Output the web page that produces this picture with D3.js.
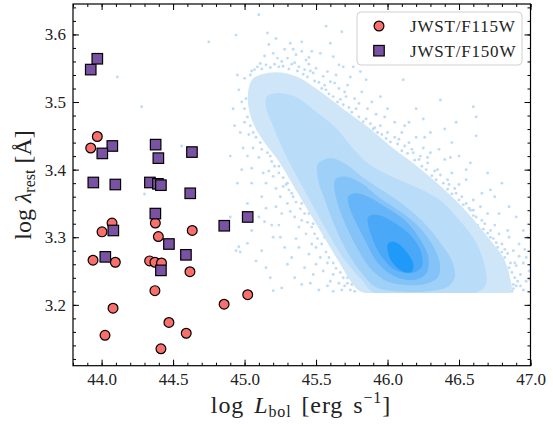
<!DOCTYPE html>
<html lang="en">
<head>
<meta charset="utf-8">
<title>Rest wavelength vs bolometric luminosity</title>
<script src="https://d3js.org/d3.v7.min.js"></script>
<style type="text/css">
  body { margin: 0; background: #fff; }
  svg { display: block; }
  .axis .tick text { font-family: "Liberation Serif", "DejaVu Serif", serif; font-size: 17px; fill: #222; }
  .axis line { stroke: #000; stroke-width: 1; }
  .label { font-family: "Liberation Serif", "DejaVu Serif", serif; font-size: 24px; fill: #222; }
  .legend text { font-family: "Liberation Serif", "DejaVu Serif", serif; font-size: 17px; fill: #222; letter-spacing: 0.8px; }
</style>
</head>
<body>
<svg width="553" height="424"></svg>

<script type="text/javascript">

// JWST/F115W sources (red circles)
const f115Lbol = [43.970, 43.924, 44.073, 44.003, 43.940, 44.096, 44.376, 44.397, 44.336, 44.373,
                  44.419, 44.373, 44.080, 44.471, 44.024, 44.415, 44.618, 44.634, 44.857, 45.022, 44.592];
const f115Lam  = [3.449, 3.432, 3.321, 3.308, 3.266, 3.263, 3.321, 3.301, 3.265, 3.263,
                  3.262, 3.221, 3.195, 3.174, 3.155, 3.135, 3.249, 3.310, 3.201, 3.215, 3.158];

// JWST/F150W sources (purple squares)
const f150Lbol = [43.924, 43.970, 44.075, 44.005, 43.942, 44.096, 44.378, 44.397, 44.338, 44.394, 44.415,
                  44.632, 44.620, 44.376, 44.082, 44.026, 44.471, 44.415, 44.590, 44.858, 45.022];
const f150Lam  = [3.548, 3.564, 3.435, 3.424, 3.381, 3.378, 3.437, 3.417, 3.381, 3.379, 3.377,
                  3.426, 3.365, 3.335, 3.310, 3.271, 3.290, 3.251, 3.274, 3.317, 3.330];

// comparison sample: density contours (outer -> inner)
const kde1 = [[45.024,3.513],[45.052,3.533],[45.122,3.541],[45.234,3.544],[45.373,3.537],[45.513,3.518],
              [45.702,3.488],[45.863,3.463],[46.031,3.433],[46.213,3.404],[46.401,3.370],[46.562,3.336],
              [46.702,3.300],[46.807,3.271],[46.856,3.241],[46.856,3.2175],[45.842,3.2175],[45.779,3.225],
              [45.653,3.266],[45.513,3.315],[45.373,3.365],[45.234,3.414],[45.143,3.439],[45.073,3.463],[45.031,3.488]];
const kde2 = [[45.155,3.508],[45.213,3.513],[45.352,3.508],[45.515,3.483],[45.632,3.463],[45.749,3.434],
              [45.865,3.409],[46.029,3.390],[46.192,3.375],[46.366,3.355],[46.483,3.330],[46.623,3.291],
              [46.693,3.242],[46.681,3.227],[46.611,3.2175],[45.911,3.2175],[45.819,3.237],[45.701,3.266],
              [45.585,3.306],[45.469,3.350],[45.352,3.395],[45.259,3.434],[45.190,3.469],[45.148,3.493]];
const kde3 = [[45.515,3.409],[45.609,3.417],[45.702,3.409],[45.819,3.390],[45.959,3.370],[46.099,3.350],
              [46.238,3.325],[46.355,3.296],[46.448,3.266],[46.471,3.242],[46.424,3.227],[46.285,3.220],
              [46.052,3.220],[45.911,3.227],[45.819,3.247],[45.725,3.276],[45.632,3.316],[45.562,3.355],[45.515,3.385]];
const kde4 = [[45.632,3.385],[45.702,3.390],[45.819,3.380],[45.935,3.360],[46.075,3.340],[46.192,3.321],
              [46.308,3.291],[46.366,3.261],[46.355,3.242],[46.285,3.232],[46.145,3.229],[46.005,3.234],
              [45.889,3.252],[45.795,3.281],[45.702,3.321],[45.644,3.355]];
const kde5 = [[45.725,3.360],[45.772,3.365],[45.865,3.360],[45.982,3.345],[46.122,3.325],[46.215,3.301],
              [46.285,3.271],[46.273,3.247],[46.192,3.237],[46.052,3.242],[45.935,3.261],[45.841,3.296],
              [45.772,3.325],[45.732,3.345]];
const kde6 = [[45.865,3.330],[45.935,3.333],[46.052,3.321],[46.169,3.301],[46.238,3.276],[46.238,3.256],
              [46.169,3.247],[46.052,3.252],[45.959,3.271],[45.889,3.301]];
const kde7 = [[46.005,3.291],[46.052,3.293],[46.122,3.281],[46.180,3.261],[46.169,3.249],[46.110,3.249],
              [46.040,3.261],[46.005,3.276]];
const kdeColors = ["#cfe6f9", "#b9dcf8", "#9fd0f8", "#84c3f8", "#66b5f8", "#4aa8f8", "#1f9af8"];

// comparison sample: individual sources visible outside the contours
const bgDots = [
  [45.10,3.629],[45.16,3.602],[45.22,3.594],[45.32,3.587],[45.40,3.589],[45.60,3.587],[45.68,3.604],[45.53,3.572],
  [45.11,3.557],[45.43,3.562],[45.62,3.567],[45.69,3.552],[45.76,3.552],[45.81,3.545],[45.74,3.537],[45.85,3.533],
  [46.11,3.533],[45.71,3.508],[45.95,3.508],[46.37,3.503],[46.60,3.493],[46.62,3.478],[45.57,3.612],
  [45.26,3.560],[45.30,3.565],[45.35,3.558],[45.38,3.552],[45.42,3.548],[45.45,3.556],[45.48,3.543],[45.50,3.550],
  [45.55,3.538],[45.58,3.545],[45.60,3.530],[45.63,3.528],[45.66,3.520],[45.70,3.515],[45.72,3.525],[45.77,3.505],
  [45.80,3.498],[45.82,3.515],[45.86,3.490],[45.89,3.500],[45.20,3.572],[45.28,3.578],[45.36,3.570],[45.47,3.575],
  [45.14,3.568],[45.05,3.546],[45.00,3.535],[45.56,3.525],[45.64,3.540],[45.40,3.575],
  [45.92,3.482],[45.98,3.478],[46.05,3.470],[46.12,3.465],[45.90,3.460],[45.96,3.452],[46.08,3.445],[46.15,3.440],
  [46.20,3.448],[46.25,3.432],[46.30,3.425],[46.28,3.410],[46.35,3.400],[46.40,3.415],[46.45,3.395],[46.42,3.385],
  [46.50,3.378],[46.55,3.385],[46.52,3.360],[46.60,3.355],[46.58,3.340],[46.65,3.345],[46.70,3.335],[46.68,3.320],
  [46.75,3.318],[46.78,3.305],[46.80,3.290],[46.85,3.300],[46.88,3.280],[46.92,3.272],[46.90,3.258],[46.95,3.262],
  [46.93,3.245],[46.97,3.235],[46.90,3.228],[46.95,3.222],[46.87,3.220],[46.99,3.250],[46.10,3.455],[46.18,3.425],
  [46.22,3.415],[46.33,3.398],[46.47,3.372],[46.62,3.330],[46.72,3.310],[46.82,3.270],
  [46.20,3.490],[46.45,3.440],[46.62,3.450],[46.48,3.470],[46.70,3.395],[46.80,3.380],[46.72,3.370],[46.85,3.345],
  [46.90,3.330],[46.95,3.310],[46.98,3.300],[46.50,3.420],[46.58,3.410],[46.30,3.455],[46.75,3.360],[46.92,3.290],
  [46.40,3.460],[46.25,3.475],
  [45.78,3.490],[45.85,3.475],[45.88,3.468],[45.95,3.465],[46.00,3.455],[46.05,3.448],[46.12,3.435],[46.17,3.430],
  [46.23,3.420],[46.28,3.418],[46.37,3.392],[46.43,3.378],[46.48,3.365],[46.55,3.350],[46.60,3.340],[46.66,3.325],
  [46.72,3.300],[46.76,3.292],[46.82,3.282],[46.86,3.262],[46.89,3.240],[46.88,3.230],
  [44.96,3.518],[44.98,3.500],[45.00,3.470],[44.97,3.455],[45.03,3.452],[45.06,3.432],[44.99,3.432],[45.10,3.418],
  [45.05,3.402],[45.13,3.395],[45.17,3.398],[45.20,3.390],[45.15,3.380],[45.22,3.372],[45.27,3.375],[45.25,3.360],
  [45.30,3.350],[45.32,3.338],[45.26,3.335],[45.35,3.330],[45.40,3.325],[45.38,3.315],[45.43,3.305],[45.36,3.298],
  [45.47,3.290],[45.50,3.285],[45.45,3.275],[45.53,3.270],[45.58,3.262],[45.55,3.250],[45.62,3.245],[45.60,3.235],
  [45.66,3.232],[45.70,3.228],[45.62,3.220],[45.52,3.222],[45.40,3.230],[45.30,3.260],[45.20,3.300],[45.10,3.330],
  [45.02,3.350],[45.15,3.343],[45.14,3.323],[45.19,3.318],[45.24,3.318],[45.02,3.291],[44.96,3.286],[44.94,3.280],
  [44.97,3.278],[45.18,3.240],[45.20,3.221],[45.08,3.265],[45.12,3.280],[45.28,3.285],[45.33,3.270],[45.42,3.255],
  [45.48,3.245],[45.35,3.240],[44.75,3.589],[44.94,3.599],[44.11,3.537],[44.28,3.493],[44.56,3.435],[44.30,3.364],
  [44.98,3.400],[44.95,3.380],[44.90,3.420],[45.07,3.480],[45.09,3.460],[45.18,3.420],[45.24,3.405],[45.30,3.380],
  [45.33,3.365],[45.40,3.350],[45.45,3.335],[45.48,3.320],[45.56,3.300],[45.60,3.290],[45.65,3.275],[45.70,3.255],
  [45.72,3.240],[45.75,3.230],
  // halo hugging the outer contour
  [45.04,3.540],[45.07,3.548],[45.09,3.552],[45.12,3.549],[45.15,3.555],[45.18,3.551],[45.21,3.556],[45.24,3.552],
  [45.27,3.553],[45.31,3.549],[45.33,3.556],[45.37,3.546],[45.41,3.541],[45.44,3.537],[45.46,3.546],[45.49,3.531],
  [45.52,3.529],[45.54,3.520],[45.57,3.518],[45.59,3.512],[45.62,3.508],[45.65,3.500],[45.67,3.504],[45.69,3.496],
  [45.73,3.492],[45.75,3.485],[45.23,3.565],[45.17,3.585],[45.45,3.566],[45.34,3.578],[45.66,3.555],
  [45.80,3.478],[45.83,3.471],[45.91,3.462],[45.93,3.455],[45.99,3.446],[46.02,3.441],[46.07,3.438],[46.10,3.428],
  [46.14,3.424],[46.19,3.414],[46.24,3.405],[46.27,3.400],[46.31,3.391],[46.34,3.385],[46.39,3.380],[46.42,3.371],
  [46.45,3.364],[46.50,3.355],[46.53,3.348],[46.57,3.343],[46.60,3.332],[46.63,3.318],[46.67,3.312],[46.70,3.306],
  [46.74,3.298],[46.77,3.285],[46.80,3.278],[46.84,3.276],[46.85,3.255],[46.87,3.248],[46.89,3.262],[46.91,3.235],
  [46.88,3.224],[46.93,3.228],[46.97,3.270],[46.99,3.238],[46.96,3.282],[46.84,3.310],[46.78,3.335],[46.66,3.365],
  [46.55,3.400],[46.36,3.430],[46.15,3.470],[46.00,3.490],[46.26,3.448],[46.44,3.418],
  [45.01,3.505],[45.00,3.490],[45.02,3.478],[45.04,3.465],[45.06,3.455],[45.08,3.448],[45.11,3.440],[45.12,3.430],
  [45.16,3.425],[45.19,3.412],[45.21,3.405],[45.24,3.395],[45.27,3.388],[45.29,3.378],[45.31,3.370],[45.34,3.360],
  [45.36,3.352],[45.39,3.342],[45.42,3.335],[45.44,3.322],[45.47,3.315],[45.49,3.305],[45.51,3.298],[45.54,3.290],
  [45.57,3.278],[45.59,3.270],[45.62,3.262],[45.64,3.254],[45.67,3.248],[45.69,3.240],[45.72,3.232],[45.74,3.222],
  [45.77,3.220],[45.68,3.222],[45.58,3.228],[45.46,3.232],[45.50,3.260],[45.38,3.285],[45.25,3.300],[45.22,3.345],
  [45.12,3.360],[45.05,3.380],[45.02,3.420],[44.93,3.465],[44.92,3.490],[44.95,3.540],[45.26,3.225],[45.15,3.255],
  [45.05,3.310],[44.90,3.330]
];

// ticks
const xMajor = [44.0, 44.5, 45.0, 45.5, 46.0, 46.5, 47.0];
const xMinor = d3.range(43.8, 47.05, 0.1);
const yMajor = [3.2, 3.3, 3.4, 3.5, 3.6];
const yMinor = d3.range(3.12, 3.645, 0.02);
const sampleCut = 3.2175;   // lower edge of the comparison sample

const svg = d3.select("svg");

const x = d3.scaleLinear().domain([43.8, 47.0]).range([73, 530.5]);
const y = d3.scaleLinear().domain([3.11, 3.645]).range([365.7, 4]);

// clip to the plot box, and to the sample cut for the contours
const defs = svg.append("defs");
defs.append("clipPath").attr("id", "plotclip")
    .append("rect")
    .attr("x", x(43.8)).attr("y", y(3.645))
    .attr("width", x(47.0) - x(43.8)).attr("height", y(3.11) - y(3.645));
defs.append("clipPath").attr("id", "cutclip")
    .append("rect")
    .attr("x", x(43.8)).attr("y", y(3.645))
    .attr("width", x(47.0) - x(43.8)).attr("height", y(sampleCut) - y(3.645));

const plot = svg.append("g").attr("clip-path", "url(#plotclip)");

// background dots
plot.append("g")
    .selectAll("circle")
    .data(bgDots)
    .enter()
    .append("circle")
    .attr("cx", d => x(d[0]))
    .attr("cy", d => y(d[1]))
    .attr("r", 1.45)
    .attr("fill", "#bedcf7");

// filled contours
const contourLine = d3.line()
    .x(d => x(d[0]))
    .y(d => y(d[1]))
    .curve(d3.curveCatmullRomClosed.alpha(0.5));

plot.append("g")
    .attr("clip-path", "url(#cutclip)")
    .selectAll("path")
    .data([kde1, kde2, kde3, kde4, kde5, kde6, kde7])
    .enter()
    .append("path")
    .attr("d", contourLine)
    .attr("fill", (d, i) => kdeColors[i]);

// JWST points
const f115 = f115Lbol.map((v, i) => [v, f115Lam[i]]);
const f150 = f150Lbol.map((v, i) => [v, f150Lam[i]]);

plot.append("g")
    .selectAll("circle")
    .data(f115)
    .enter()
    .append("circle")
    .attr("cx", d => x(d[0]))
    .attr("cy", d => y(d[1]))
    .attr("r", 4.9)
    .attr("fill", "#fa6e6b")
    .attr("stroke", "#000")
    .attr("stroke-width", 1.2);

const sq = 10.5;
plot.append("g")
    .selectAll("rect")
    .data(f150)
    .enter()
    .append("rect")
    .attr("x", d => x(d[0]) - sq / 2)
    .attr("y", d => y(d[1]) - sq / 2)
    .attr("width", sq)
    .attr("height", sq)
    .attr("fill", "#7a52a3")
    .attr("stroke", "#000")
    .attr("stroke-width", 1.2);

// axes, ticks pointing inward on all four sides
function addAxis(axis, ty, tx) {
    const g = svg.append("g")
        .attr("class", "axis")
        .attr("transform", "translate(" + (tx || 0) + "," + (ty || 0) + ")")
        .call(axis);
    g.select(".domain").remove();
    return g;
}
const x0 = x(43.8), x1 = x(47.0), y0 = y(3.11), y1 = y(3.645);

addAxis(d3.axisBottom(x).tickValues(xMajor).tickSizeInner(-6).tickSizeOuter(0).tickPadding(7).tickFormat(d3.format(".1f")), y0);
addAxis(d3.axisBottom(x).tickValues(xMinor).tickSizeInner(-3).tickSizeOuter(0).tickFormat(""), y0);
addAxis(d3.axisTop(x).tickValues(xMajor).tickSizeInner(-6).tickSizeOuter(0).tickFormat(""), y1);
addAxis(d3.axisTop(x).tickValues(xMinor).tickSizeInner(-3).tickSizeOuter(0).tickFormat(""), y1);
addAxis(d3.axisLeft(y).tickValues(yMajor).tickSizeInner(-6).tickSizeOuter(0).tickPadding(7).tickFormat(d3.format(".1f")), 0, x0);
addAxis(d3.axisLeft(y).tickValues(yMinor).tickSizeInner(-3).tickSizeOuter(0).tickFormat(""), 0, x0);
addAxis(d3.axisRight(y).tickValues(yMajor).tickSizeInner(-6).tickSizeOuter(0).tickFormat(""), 0, x1);
addAxis(d3.axisRight(y).tickValues(yMinor).tickSizeInner(-3).tickSizeOuter(0).tickFormat(""), 0, x1);

svg.append("rect")
    .attr("x", x0).attr("y", y1)
    .attr("width", x1 - x0).attr("height", y0 - y1)
    .attr("fill", "none")
    .attr("stroke", "#000")
    .attr("stroke-width", 1.2);

// axis labels
const xl = svg.append("text")
    .attr("class", "label")
    .attr("x", 301)
    .attr("y", 413)
    .attr("text-anchor", "middle")
    .style("letter-spacing", "0.9px")
    .style("word-spacing", "3px");
xl.append("tspan").text("log ");
xl.append("tspan").attr("font-style", "italic").text("L");
xl.append("tspan").attr("font-size", "16px").attr("dy", 4).text("bol");
xl.append("tspan").attr("dy", -4).text(" [erg s");
xl.append("tspan").attr("font-size", "16px").attr("dy", -10).text("\u22121");
xl.append("tspan").attr("dy", 10).text("]");

const yl = svg.append("text")
    .attr("class", "label")
    .attr("transform", "translate(31,185) rotate(-90)")
    .attr("text-anchor", "middle");
yl.append("tspan").text("log ");
yl.append("tspan").attr("font-style", "italic").text("\u03bb");
yl.append("tspan").attr("font-size", "16px").attr("dy", 4).text("rest");
yl.append("tspan").attr("dy", -4).text(" [\u00c5]");

// legend
const legend = svg.append("g").attr("class", "legend");
legend.append("rect")
    .attr("x", 357).attr("y", 12)
    .attr("width", 165).attr("height", 53)
    .attr("rx", 4)
    .attr("fill", "#fff").attr("fill-opacity", 0.8)
    .attr("stroke", "#d0d0d0").attr("stroke-width", 1);
legend.append("circle")
    .attr("cx", 379).attr("cy", 26).attr("r", 4.9)
    .attr("fill", "#fa6e6b").attr("stroke", "#000").attr("stroke-width", 1.2);
legend.append("rect")
    .attr("x", 379 - sq / 2).attr("y", 50.7 - sq / 2)
    .attr("width", sq).attr("height", sq)
    .attr("fill", "#7a52a3").attr("stroke", "#000").attr("stroke-width", 1.2);
legend.append("text").attr("x", 410).attr("y", 26).attr("dy", "0.35em").text("JWST/F115W");
legend.append("text").attr("x", 410).attr("y", 50.7).attr("dy", "0.35em").text("JWST/F150W");

</script>
</body>
</html>
